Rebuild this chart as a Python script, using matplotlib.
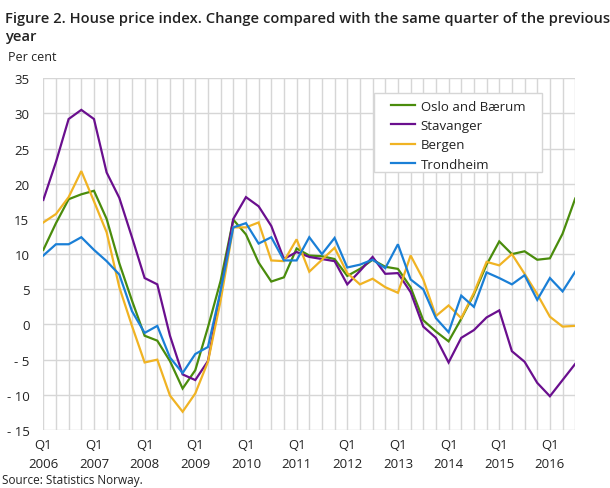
import matplotlib
matplotlib.use("Agg")
import matplotlib.pyplot as plt
from matplotlib.patches import Rectangle
import numpy as np

plt.rcParams['font.family'] = ['Open Sans', 'DejaVu Sans']

# quarterly change, 2006 Q1 .. 2016 Q3
years = list(range(2006, 2017))
oslo = [10.6, 14.4, 17.8, 18.5, 19.0, 15.0, 8.7, 3.4, -1.6, -2.3, -5.2, -9.1,
        -6.5, -0.4, 6.2, 14.9, 12.8, 8.8, 6.1, 6.7, 10.8, 9.8, 9.7, 9.3,
        6.9, 7.9, 9.2, 8.2, 7.9, 5.3, 0.6, -1.0, -2.4, 0.8, 4.3, 8.5,
        11.8, 10.0, 10.4, 9.2, 9.4, 12.9, 17.9]
stavanger = [17.7, 23.1, 29.2, 30.5, 29.2, 21.6, 18.0, 12.4, 6.6, 5.7, -1.6, -7.1,
             -7.9, -5.2, 4.6, 15.0, 18.1, 16.8, 14.0, 9.3, 10.3, 9.6, 9.3, 9.0,
             5.7, 7.6, 9.6, 7.2, 7.3, 4.6, -0.3, -1.9, -5.4, -1.9, -0.8, 1.0,
             2.0, -3.8, -5.3, -8.3, -10.2, -7.9, -5.6]
bergen = [14.5, 15.7, 18.1, 21.8, 17.5, 13.1, 5.3, -0.2, -5.4, -5.0, -10.1, -12.4,
          -9.8, -5.3, 3.4, 13.8, 13.8, 14.5, 9.1, 9.0, 12.1, 7.5, 9.2, 10.9,
          7.3, 5.7, 6.5, 5.3, 4.5, 9.8, 6.4, 1.2, 2.7, 0.9, 4.5, 8.9,
          8.4, 10.0, 7.2, 4.3, 1.1, -0.3, -0.2]
trondheim = [9.8, 11.4, 11.4, 12.4, 10.6, 9.0, 7.1, 1.9, -1.2, -0.2, -4.7, -6.9,
             -4.2, -3.2, 4.8, 13.8, 14.4, 11.5, 12.4, 9.1, 9.1, 12.4, 10.0, 12.3,
             8.1, 8.5, 9.2, 8.0, 11.4, 6.4, 5.0, 0.9, -1.1, 4.1, 2.5, 7.4,
             6.6, 5.7, 7.0, 3.5, 6.6, 4.7, 7.5]

names = ["Oslo and Bærum", "Stavanger", "Bergen", "Trondheim"]
colors = ["#4a8c0c", "#6a0f8e", "#f0b323", "#1a7fd6"]
yticks = list(range(-15, 40, 5))

fig = plt.figure(figsize=(6.1, 4.89), dpi=100)
ax = fig.add_axes([0.071, 0.1186, 0.872, 0.7194])

x = np.arange(len(oslo))
for vals, name, c in zip([oslo, stavanger, bergen, trondheim], names, colors):
    ax.plot(x, vals, color=c, lw=1.6, label=name, solid_joinstyle="miter")

ax.set_xlim(0, len(oslo) - 1)
ax.set_ylim(-15, 35)
ax.set_xticks(x, minor=True)
ax.set_xticks(x[::4])
ax.set_xticklabels([f"Q1\n{y}" for y in years], fontsize=9.5, color="#222222",
                   linespacing=1.55)
ax.set_yticks(yticks)
ax.set_yticklabels([f"- {-v}" if v < 0 else str(v) for v in yticks],
                   fontsize=9.5, color="#222222")
ax.grid(True, which="both", color="#d6d6d6", lw=1)
ax.set_axisbelow(True)
ax.tick_params(which="both", length=0)
ax.tick_params(axis="y", pad=10)
ax.tick_params(axis="x", pad=6)
for s in ax.spines.values():
    s.set_visible(False)

# legend box drawn by hand, legend itself without frame
ax.add_patch(Rectangle((0.6216, 0.7336), 0.3158, 0.2244, transform=ax.transAxes,
                       facecolor="white", edgecolor="#d6d6d6", lw=1, zorder=3))
leg = ax.legend(loc="center left", bbox_to_anchor=(0.6535, 0.838), fontsize=9.5,
                frameon=False, handlelength=1.85, handletextpad=0.4,
                labelspacing=0.47, borderpad=0, borderaxespad=0)
leg.set_zorder(4)
for t in leg.get_texts():
    t.set_color("#222222")

fig.text(0.008, 0.975, "Figure 2. House price index. Change compared with the same quarter of the previous\nyear",
         fontsize=10.6, color="#222222", va="top", ha="left", linespacing=1.3,
         fontweight="semibold")
fig.text(0.013, 0.8834, "Per cent", fontsize=9, color="#222222", va="center")
fig.text(0.004, 0.018, "Source: Statistics Norway.", fontsize=8.5, color="#222222",
         va="center")

fig.savefig("out.png", dpi=100)
